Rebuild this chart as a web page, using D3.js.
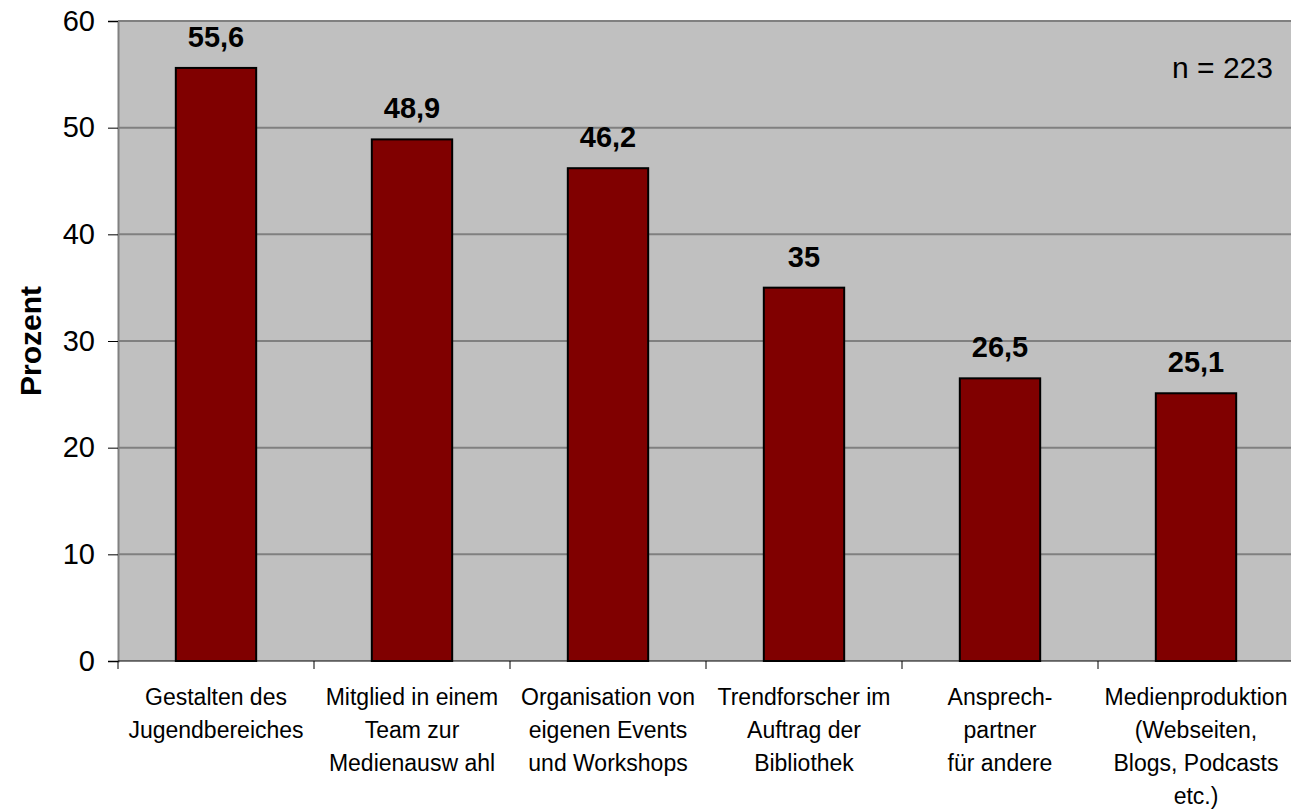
<!DOCTYPE html>
<html>
<head>
<meta charset="utf-8">
<style>
  body { margin: 0; background: #fff; }
  svg { display: block; font-family: "Liberation Sans", Arial, sans-serif; }
</style>
</head>
<body>
<svg width="1291" height="810"></svg>
<script src="https://d3js.org/d3.v7.min.js"></script>
<script>
var categories = [
  ["Gestalten des", "Jugendbereiches"],
  ["Mitglied in einem", "Team zur", "Medienausw ahl"],
  ["Organisation von", "eigenen Events", "und Workshops"],
  ["Trendforscher im", "Auftrag der", "Bibliothek"],
  ["Ansprech-", "partner", "für andere"],
  ["Medienproduktion", "(Webseiten,", "Blogs, Podcasts", "etc.)"]
];
var values = [55.6, 48.9, 46.2, 35, 26.5, 25.1];
var yTicks = [0, 10, 20, 30, 40, 50, 60];
var note = "n = 223";

var svg = d3.select("svg");
var plotLeft = 118, plotRight = 1294, plotTop = 21, plotBottom = 661;

var x = d3.scaleBand()
    .domain(d3.range(values.length))
    .range([plotLeft, plotRight])
    .paddingInner(0.59)
    .paddingOuter(0.295);

var y = d3.scaleLinear().domain([0, 60]).range([plotBottom, plotTop]);

// plot background
svg.append("rect")
    .attr("x", plotLeft).attr("y", plotTop)
    .attr("width", plotRight - plotLeft).attr("height", plotBottom - plotTop)
    .attr("fill", "#c0c0c0");

// gridlines
svg.append("g").selectAll("line")
  .data(yTicks.filter(function(d) { return d > 0; }))
  .enter().append("line")
    .attr("x1", plotLeft).attr("x2", plotRight)
    .attr("y1", function(d) { return y(d); })
    .attr("y2", function(d) { return y(d); })
    .attr("stroke", "#808080").attr("stroke-width", 2);

// y axis
var yAxis = svg.append("g")
    .attr("transform", "translate(" + plotLeft + ",0)")
    .call(d3.axisLeft(y).tickValues(yTicks).tickSize(10).tickPadding(13));
yAxis.select(".domain").attr("stroke", "#808080").attr("stroke-width", 2);
yAxis.selectAll(".tick line").attr("stroke", "#000").attr("stroke-width", 1);
yAxis.selectAll("text").attr("font-size", 29).attr("fill", "#000")
    .attr("font-family", "Liberation Sans, Arial, sans-serif");

// x axis ticks at band boundaries
var step = x.step();
var bounds = d3.range(values.length + 1).map(function(i) { return plotLeft + i * step; });
svg.append("line")
    .attr("x1", plotLeft).attr("x2", plotRight)
    .attr("y1", plotBottom).attr("y2", plotBottom)
    .attr("stroke", "#000").attr("stroke-width", 1);
svg.append("g").selectAll("line")
  .data(bounds)
  .enter().append("line")
    .attr("x1", function(d) { return d; }).attr("x2", function(d) { return d; })
    .attr("y1", plotBottom).attr("y2", plotBottom + 8)
    .attr("stroke", "#000");

// bars
svg.append("g").selectAll("rect")
  .data(values)
  .enter().append("rect")
    .attr("x", function(d, i) { return x(i); })
    .attr("y", function(d) { return y(d); })
    .attr("width", x.bandwidth())
    .attr("height", function(d) { return y(0) - y(d); })
    .attr("fill", "#800000")
    .attr("stroke", "#000").attr("stroke-width", 2);

// value labels
svg.append("g").selectAll("text")
  .data(values)
  .enter().append("text")
    .attr("x", function(d, i) { return x(i) + x.bandwidth() / 2; })
    .attr("y", function(d) { return y(d) - 21; })
    .attr("text-anchor", "middle")
    .attr("font-size", 29).attr("font-weight", "bold")
    .text(function(d) { return String(d).replace(".", ","); });

// category labels
svg.append("g").selectAll("text")
  .data(categories)
  .enter().append("text")
    .attr("text-anchor", "middle")
    .attr("font-size", 23)
    .each(function(lines, i) {
      var cx = x(i) + x.bandwidth() / 2;
      d3.select(this).selectAll("tspan")
        .data(lines)
        .enter().append("tspan")
          .attr("x", cx)
          .attr("y", function(d, j) { return 705 + j * 33; })
          .text(function(d) { return d; });
    });

// y axis title
svg.append("text")
    .attr("transform", "translate(41," + ((plotTop + plotBottom) / 2) + ") rotate(-90)")
    .attr("text-anchor", "middle")
    .attr("font-size", 30).attr("font-weight", "bold")
    .text("Prozent");

// note
svg.append("text")
    .attr("x", 1273).attr("y", 78)
    .attr("text-anchor", "end")
    .attr("font-size", 30)
    .text(note);
</script>
</body>
</html>
